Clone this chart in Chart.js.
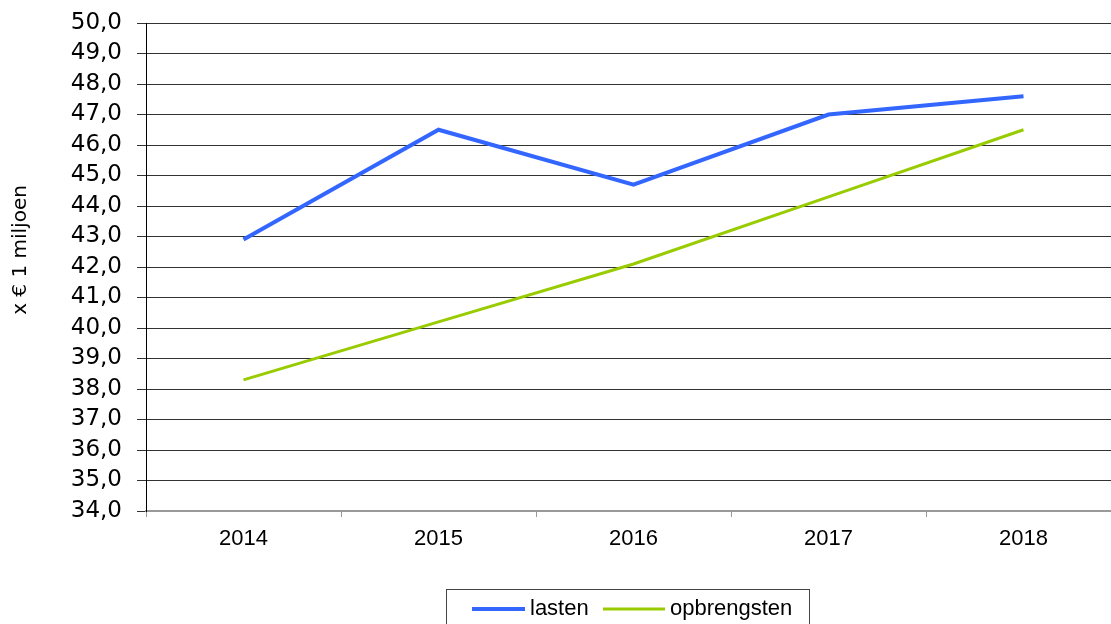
<!DOCTYPE html>
<html>
<head>
<meta charset="utf-8">
<script src="https://cdn.jsdelivr.net/npm/chart.js@4/dist/chart.umd.min.js"></script>
<style>
  html, body { margin: 0; padding: 0; overflow: hidden; background: #fff; }
  #wrap { width: 1121px; height: 624px; position: relative; }
</style>
</head>
<body>
<div id="wrap"><canvas id="lineChart"></canvas></div>
<script>
var years = ["2014", "2015", "2016", "2017", "2018"];
var lasten = [42.9, 46.5, 44.7, 47.0, 47.6];
var opbrengsten = [38.3, 40.2, 42.1, 44.3, 46.5];
var yMin = 34;
var yMax = 50;
var yTitle = "x € 1 miljoen";

// y axis title sits a bit above the middle of the axis in the original
var axisTitle = {
  id: "axisTitle",
  afterDraw: function (chart) {
    var ctx = chart.ctx;
    ctx.save();
    ctx.translate(21, 250);
    ctx.rotate(-Math.PI / 2);
    ctx.font = "20px 'DejaVu Sans', Verdana, sans-serif";
    ctx.fillStyle = "#000";
    ctx.textAlign = "center";
    ctx.textBaseline = "middle";
    ctx.fillText(yTitle, 0, 0);
    ctx.restore();
  }
};

// boxed legend under the chart
var boxLegend = {
  id: "boxLegend",
  afterDraw: function (chart) {
    var ctx = chart.ctx;
    ctx.save();
    ctx.strokeStyle = "#444";
    ctx.lineWidth = 1;
    ctx.strokeRect(446.5, 589.5, 363, 40);
    ctx.font = "22px 'Liberation Sans', Arial, sans-serif";
    ctx.textBaseline = "middle";
    ctx.fillStyle = "#000";
    var items = [
      { x: 472, len: 53, tx: 530 },
      { x: 603, len: 62, tx: 670 }
    ];
    chart.data.datasets.forEach(function (ds, i) {
      var it = items[i];
      ctx.strokeStyle = ds.borderColor;
      ctx.lineWidth = ds.borderWidth;
      ctx.beginPath();
      ctx.moveTo(it.x, 609);
      ctx.lineTo(it.x + it.len, 609);
      ctx.stroke();
      ctx.fillText(ds.label, it.tx, 609);
    });
    ctx.restore();
  }
};

var ctx = document.getElementById("lineChart");

window.chart = new Chart(ctx, {
  type: "line",
  data: {
    labels: years,
    datasets: [
      {
        label: "lasten",
        data: lasten,
        borderColor: "#3366ff",
        borderWidth: 4,
        pointRadius: 0,
        tension: 0,
      },
      {
        label: "opbrengsten",
        data: opbrengsten,
        borderColor: "#99cc00",
        borderWidth: 3,
        pointRadius: 0,
        tension: 0,
      },
    ],
  },
  options: {
    responsive: true,
    maintainAspectRatio: false,
    animation: false,
    layout: { padding: { top: 23, right: 0, bottom: 0, left: 0 } },
    plugins: {
      legend: { display: false },
      tooltip: { enabled: false },
    },
    scales: {
      x: {
        offset: true,
        afterFit: function (scale) {
          scale.height = 113;
          scale.paddingLeft = 0;
          scale.paddingRight = 0;
        },
        grid: {
          offset: true,
          drawOnChartArea: false,
          drawTicks: true,
          tickLength: 6,
          color: "#999",
        },
        border: { color: "#999", width: 2 },
        ticks: {
          padding: 9,
          color: "#000",
          maxRotation: 0,
          font: { family: "'Liberation Sans', Arial, sans-serif", size: 22 },
        },
      },
      y: {
        min: yMin,
        max: yMax,
        afterFit: function (scale) {
          scale.width = 146;
          scale.paddingTop = 0;
          scale.paddingBottom = 0;
        },
        grid: {
          color: "#333",
          lineWidth: 1,
          tickLength: 9,
        },
        border: { color: "#000", width: 1 },
        ticks: {
          stepSize: 1,
          autoSkip: false,
          padding: 15,
          color: "#000",
          font: { family: "'DejaVu Sans', Verdana, sans-serif", size: 23, lineHeight: 1 },
          callback: function (value) {
            return value.toFixed(1).replace(".", ",");
          },
        },
      },
    },
  },
  plugins: [axisTitle, boxLegend],
});
</script>
</body>
</html>
